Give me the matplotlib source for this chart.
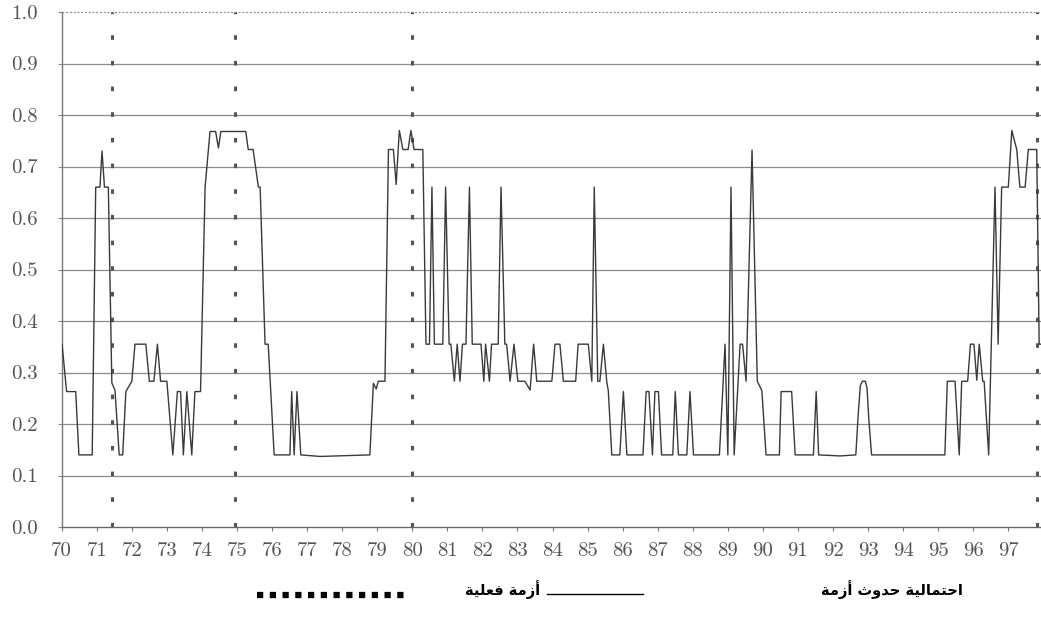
import matplotlib
matplotlib.use("Agg")
import matplotlib.pyplot as plt
from matplotlib.lines import Line2D

# Monthly crisis-probability signal (decimal years, 19xx)
years = [70.01, 70.14, 70.40, 70.49, 70.87, 70.97, 71.09, 71.15, 71.22, 71.33,
         71.43, 71.52, 71.64, 71.74, 71.83, 72.00, 72.09, 72.40, 72.50, 72.63,
         72.73, 72.82, 73.00, 73.17, 73.30, 73.39, 73.47, 73.57, 73.71, 73.80,
         73.96, 74.09, 74.23, 74.39, 74.47, 74.54, 75.25, 75.32, 75.46, 75.61,
         75.66, 75.80, 75.89, 76.06, 76.51, 76.56, 76.63, 76.71, 76.82, 77.37,
         78.37, 78.79, 78.89, 78.97, 79.03, 79.22, 79.32, 79.46, 79.54, 79.63,
         79.73, 79.88, 79.96, 80.05, 80.30, 80.39, 80.49, 80.56, 80.63, 80.87,
         80.95, 81.05, 81.10, 81.20, 81.28, 81.36, 81.43, 81.53, 81.63, 81.71,
         81.96, 82.04, 82.09, 82.20, 82.26, 82.45, 82.53, 82.64, 82.69, 82.79,
         82.90, 83.01, 83.21, 83.36, 83.46, 83.55, 83.98, 84.07, 84.21, 84.31,
         84.66, 84.73, 85.02, 85.12, 85.19, 85.29, 85.35, 85.45, 85.55, 85.59,
         85.69, 85.92, 86.02, 86.12, 86.58, 86.67, 86.75, 86.85, 86.92, 87.02,
         87.11, 87.43, 87.50, 87.59, 87.83, 87.92, 88.02, 88.76, 88.92, 89.00,
         89.09, 89.18, 89.35, 89.42, 89.52, 89.69, 89.84, 89.97, 90.09, 90.47,
         90.52, 90.82, 90.92, 91.44, 91.52, 91.59, 92.20, 92.65, 92.72, 92.78,
         92.84, 92.92, 92.97, 93.02, 93.10, 95.19, 95.26, 95.48, 95.60, 95.67,
         95.84, 95.92, 96.02, 96.10, 96.17, 96.27, 96.31, 96.44, 96.62, 96.71,
         96.81, 97.00, 97.10, 97.24, 97.33, 97.48, 97.57, 97.81, 97.88, 97.93]
prob = [0.355, 0.263, 0.263, 0.140, 0.140, 0.660, 0.660, 0.730, 0.660, 0.660,
        0.280, 0.265, 0.140, 0.140, 0.263, 0.283, 0.355, 0.355, 0.283, 0.283,
        0.355, 0.283, 0.283, 0.140, 0.263, 0.263, 0.140, 0.263, 0.140, 0.263,
        0.263, 0.660, 0.768, 0.768, 0.736, 0.768, 0.768, 0.733, 0.733, 0.660,
        0.660, 0.355, 0.355, 0.140, 0.140, 0.263, 0.140, 0.263, 0.140, 0.137,
        0.139, 0.140, 0.279, 0.268, 0.283, 0.283, 0.733, 0.733, 0.665, 0.770,
        0.733, 0.733, 0.770, 0.733, 0.733, 0.355, 0.355, 0.660, 0.355, 0.355,
        0.660, 0.355, 0.355, 0.283, 0.355, 0.283, 0.355, 0.355, 0.660, 0.355,
        0.355, 0.283, 0.355, 0.283, 0.355, 0.355, 0.660, 0.355, 0.355, 0.283,
        0.355, 0.283, 0.283, 0.266, 0.355, 0.283, 0.283, 0.355, 0.355, 0.283,
        0.283, 0.355, 0.355, 0.283, 0.660, 0.283, 0.283, 0.355, 0.280, 0.265,
        0.140, 0.140, 0.263, 0.140, 0.140, 0.263, 0.263, 0.140, 0.263, 0.263,
        0.140, 0.140, 0.263, 0.140, 0.140, 0.263, 0.140, 0.140, 0.355, 0.140,
        0.660, 0.140, 0.355, 0.355, 0.283, 0.732, 0.283, 0.265, 0.140, 0.140,
        0.263, 0.263, 0.140, 0.140, 0.263, 0.140, 0.138, 0.140, 0.220, 0.275,
        0.283, 0.283, 0.270, 0.210, 0.140, 0.140, 0.283, 0.283, 0.140, 0.283,
        0.283, 0.355, 0.355, 0.285, 0.355, 0.283, 0.283, 0.140, 0.660, 0.355,
        0.660, 0.660, 0.770, 0.733, 0.660, 0.660, 0.733, 0.733, 0.355, 0.355]

# Dates of actual crises
crisis_dates = [71.43, 74.94, 80.00, 97.83]

year_ticks = list(range(70, 98))
year_labels = [str(y) for y in year_ticks]
prob_ticks = [i / 10 for i in range(11)]
prob_labels = [f"{v:.1f}" for v in prob_ticks]

legend_prob = "احتمالية حدوث أزمة"
legend_crisis = "أزمة فعلية"

# Contextual Arabic letter forms: (isolated, final, initial, medial)
FORMS = {
    'ا': ('\uFE8D', '\uFE8E', None, None),
    'أ': ('\uFE83', '\uFE84', None, None),
    'ح': ('\uFEA1', '\uFEA2', '\uFEA3', '\uFEA4'),
    'ت': ('\uFE95', '\uFE96', '\uFE97', '\uFE98'),
    'ث': ('\uFE99', '\uFE9A', '\uFE9B', '\uFE9C'),
    'م': ('\uFEE1', '\uFEE2', '\uFEE3', '\uFEE4'),
    'ل': ('\uFEDD', '\uFEDE', '\uFEDF', '\uFEE0'),
    'ي': ('\uFEF1', '\uFEF2', '\uFEF3', '\uFEF4'),
    'ة': ('\uFE93', '\uFE94', None, None),
    'د': ('\uFEA9', '\uFEAA', None, None),
    'و': ('\uFEED', '\uFEEE', None, None),
    'ز': ('\uFEAF', '\uFEB0', None, None),
    'ف': ('\uFED1', '\uFED2', '\uFED3', '\uFED4'),
    'ع': ('\uFEC9', '\uFECA', '\uFECB', '\uFECC'),
}


def shape_arabic(text):
    """Join letters into presentation forms and lay them out right-to-left."""
    words = []
    for word in text.split(' '):
        glyphs = []
        for i, ch in enumerate(word):
            iso, fin, ini, med = FORMS[ch]
            prev_joins = i > 0 and FORMS[word[i - 1]][2] is not None
            next_joins = i < len(word) - 1 and ini is not None
            if prev_joins and next_joins:
                glyphs.append(med)
            elif prev_joins:
                glyphs.append(fin)
            elif next_joins:
                glyphs.append(ini)
            else:
                glyphs.append(iso)
        words.append(''.join(reversed(glyphs)))
    return ' '.join(reversed(words))


W, H = 1041, 620
fig = plt.figure(figsize=(W / 100, H / 100), dpi=100)
left_px, bottom_px, top_px = 61.7, 527, 12
px_per_year = 35.06
ax = fig.add_axes([left_px / W, (H - bottom_px) / H,
                   (W - left_px) / W, (bottom_px - top_px) / H])
ax.set_xlim(70, 70 + (W - left_px) / px_per_year)
ax.set_ylim(0, 1)

grid_color = '#8c8c8c'
for v in prob_ticks[1:-1]:
    ax.axhline(v, color=grid_color, lw=0.9, zorder=1)
ax.axhline(1.0, color=grid_color, lw=0.9, ls=(0, (1.5, 1.5)), zorder=1,
           clip_on=False)

for d in crisis_dates:
    ax.axvline(d, color='#555555', lw=2.2, ls=(0, (1.5, 6.9)), zorder=2)

ax.plot(years, prob, color='#3a3a3a', lw=1.0, zorder=3)

for side in ('top', 'right'):
    ax.spines[side].set_visible(False)
ax.spines['left'].set_color('#777777')
ax.spines['bottom'].set_color('#666666')
ax.spines['left'].set_linewidth(1.0)
ax.spines['bottom'].set_linewidth(1.0)

tick_font = {'family': 'cmr10', 'size': 15}
ax.set_xticks(year_ticks)
ax.set_xticklabels(year_labels, fontdict=tick_font)
ax.set_yticks(prob_ticks)
ax.set_yticklabels(prob_labels, fontdict=tick_font)
ax.tick_params(axis='x', direction='out', length=3, width=0.8, color='#777777',
               pad=8, labelcolor='#555555')
ax.tick_params(axis='y', direction='out', length=3, width=0.8, color='#888888',
               pad=14, labelcolor='#555555')

# Legend row beneath the axis
ar_font = dict(family='DejaVu Sans', weight='bold', size=10.5, color='black')
leg_y = 1 - 590 / H
fig.text(963 / W, leg_y, shape_arabic(legend_prob), ha='right', va='center',
         **ar_font)
fig.add_artist(Line2D([547 / W, 643 / W], [1 - 594 / H] * 2,
                      transform=fig.transFigure, color='black', lw=1.0))
fig.text(540 / W, leg_y, shape_arabic(legend_crisis), ha='right', va='center',
         **ar_font)
fig.add_artist(Line2D([257 / W, 410 / W], [1 - 595 / H] * 2,
                      transform=fig.transFigure, color='black', lw=4.5,
                      ls=(0, (1.0, 1.04))))

fig.savefig('out.png', dpi=100)
